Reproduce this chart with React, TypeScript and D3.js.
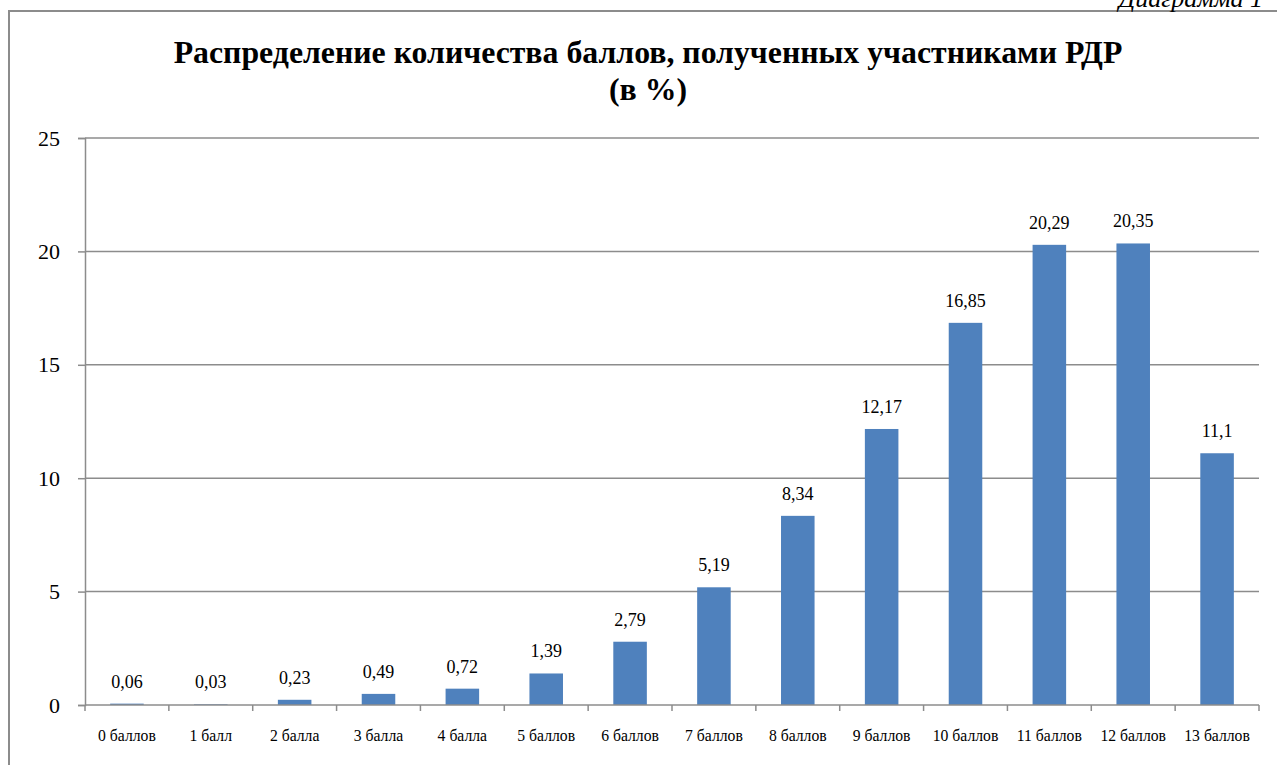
import React, { useEffect, useRef } from 'react'
import * as d3 from 'd3'

const categories = ['0 баллов', '1 балл', '2 балла', '3 балла', '4 балла', '5 баллов', '6 баллов',
    '7 баллов', '8 баллов', '9 баллов', '10 баллов', '11 баллов', '12 баллов', '13 баллов']
const values = [0.06, 0.03, 0.23, 0.49, 0.72, 1.39, 2.79, 5.19, 8.34, 12.17, 16.85, 20.29, 20.35, 11.1]
const yTicks = [0, 5, 10, 15, 20, 25]
const titleLines = ['Распределение количества баллов, полученных участниками РДР', '(в %)']

export default function App() {
    const ref = useRef<SVGSVGElement | null>(null)

    const width = 1277
    const height = 765
    const margin = { left: 85, right: 18, top: 138, bottom: 60 }
    const font = "'Liberation Serif', 'Times New Roman', Times, serif"

    function draw() {
        const svg = d3.select(ref.current)
        svg.selectAll('*').remove()
        svg.attr('width', width).attr('height', height)
            .style('position', 'absolute').style('left', '0px').style('top', '0px')
            .style('font-family', font)

        // frame
        svg.append('path')
            .attr('d', `M9,765 L9,11 L${width},11`)
            .attr('fill', 'none').attr('stroke', '#8c8c8c').attr('stroke-width', 2)

        svg.append('text')
            .attr('x', 1263).attr('y', 7)
            .attr('text-anchor', 'end')
            .style('font-style', 'italic').style('font-size', '26px')
            .text('Диаграмма 1')

        svg.selectAll('text.title')
            .data(titleLines)
            .enter().append('text')
            .attr('class', 'title')
            .attr('x', 648).attr('y', (d, i) => 63 + i * 37)
            .attr('text-anchor', 'middle')
            .style('font-weight', 'bold').style('font-size', '31.8px')
            .text(d => d)

        const x = d3.scaleBand()
            .domain(categories)
            .range([margin.left, width - margin.right])
            .paddingInner(0.6).paddingOuter(0.3)
        const y = d3.scaleLinear().domain([0, 25]).range([height - margin.bottom, margin.top])

        const g = svg.append('g')

        // gridlines
        g.selectAll('line.grid')
            .data(yTicks.filter(t => t > 0))
            .enter().append('line')
            .attr('x1', margin.left).attr('x2', width - margin.right)
            .attr('y1', d => y(d)).attr('y2', d => y(d))
            .attr('stroke', '#8c8c8c').attr('stroke-width', 1.5)

        // y axis
        const yAxis = g.append('g')
            .attr('transform', `translate(${margin.left},0)`)
            .call(d3.axisLeft(y).tickValues(yTicks).tickSize(7).tickPadding(18).tickFormat(d3.format('d')))
        yAxis.attr('font-family', null).attr('font-size', null)
        yAxis.select('.domain').attr('stroke', '#8c8c8c').attr('stroke-width', 1.5)
        yAxis.selectAll('.tick line').attr('stroke', '#8c8c8c').attr('stroke-width', 1.5)
        yAxis.selectAll('.tick text')
            .style('font-size', '22px').attr('fill', '#000')

        // bars
        g.selectAll('rect.bar')
            .data(values)
            .enter().append('rect')
            .attr('x', (d, i) => x(categories[i])!)
            .attr('y', d => y(d))
            .attr('width', x.bandwidth())
            .attr('height', d => y(0) - y(d))
            .attr('fill', '#4f81bd')

        // value labels
        g.selectAll('text.val')
            .data(values)
            .enter().append('text')
            .attr('x', (d, i) => x(categories[i])! + x.bandwidth() / 2)
            .attr('y', d => y(d) - 16)
            .attr('text-anchor', 'middle')
            .style('font-size', '18px')
            .text(d => String(d).replace('.', ','))

        // x axis
        const bounds = d3.range(categories.length + 1).map(i => margin.left + i * x.step())
        g.append('line')
            .attr('x1', margin.left).attr('x2', width - margin.right)
            .attr('y1', y(0)).attr('y2', y(0))
            .attr('stroke', '#8c8c8c').attr('stroke-width', 1.5)
        g.selectAll('line.xt')
            .data(bounds)
            .enter().append('line')
            .attr('x1', d => d).attr('x2', d => d)
            .attr('y1', y(0)).attr('y2', y(0) + 6)
            .attr('stroke', '#8c8c8c').attr('stroke-width', 1.5)
        g.selectAll('text.cat')
            .data(categories)
            .enter().append('text')
            .attr('x', d => x(d)! + x.bandwidth() / 2)
            .attr('y', y(0) + 36)
            .attr('text-anchor', 'middle')
            .style('font-size', '15.7px')
            .text(d => d)
    }

    useEffect(() => {
        draw()
    }, [])

    return (
        <div>
            <svg ref={ref} />
        </div>
    )
}
